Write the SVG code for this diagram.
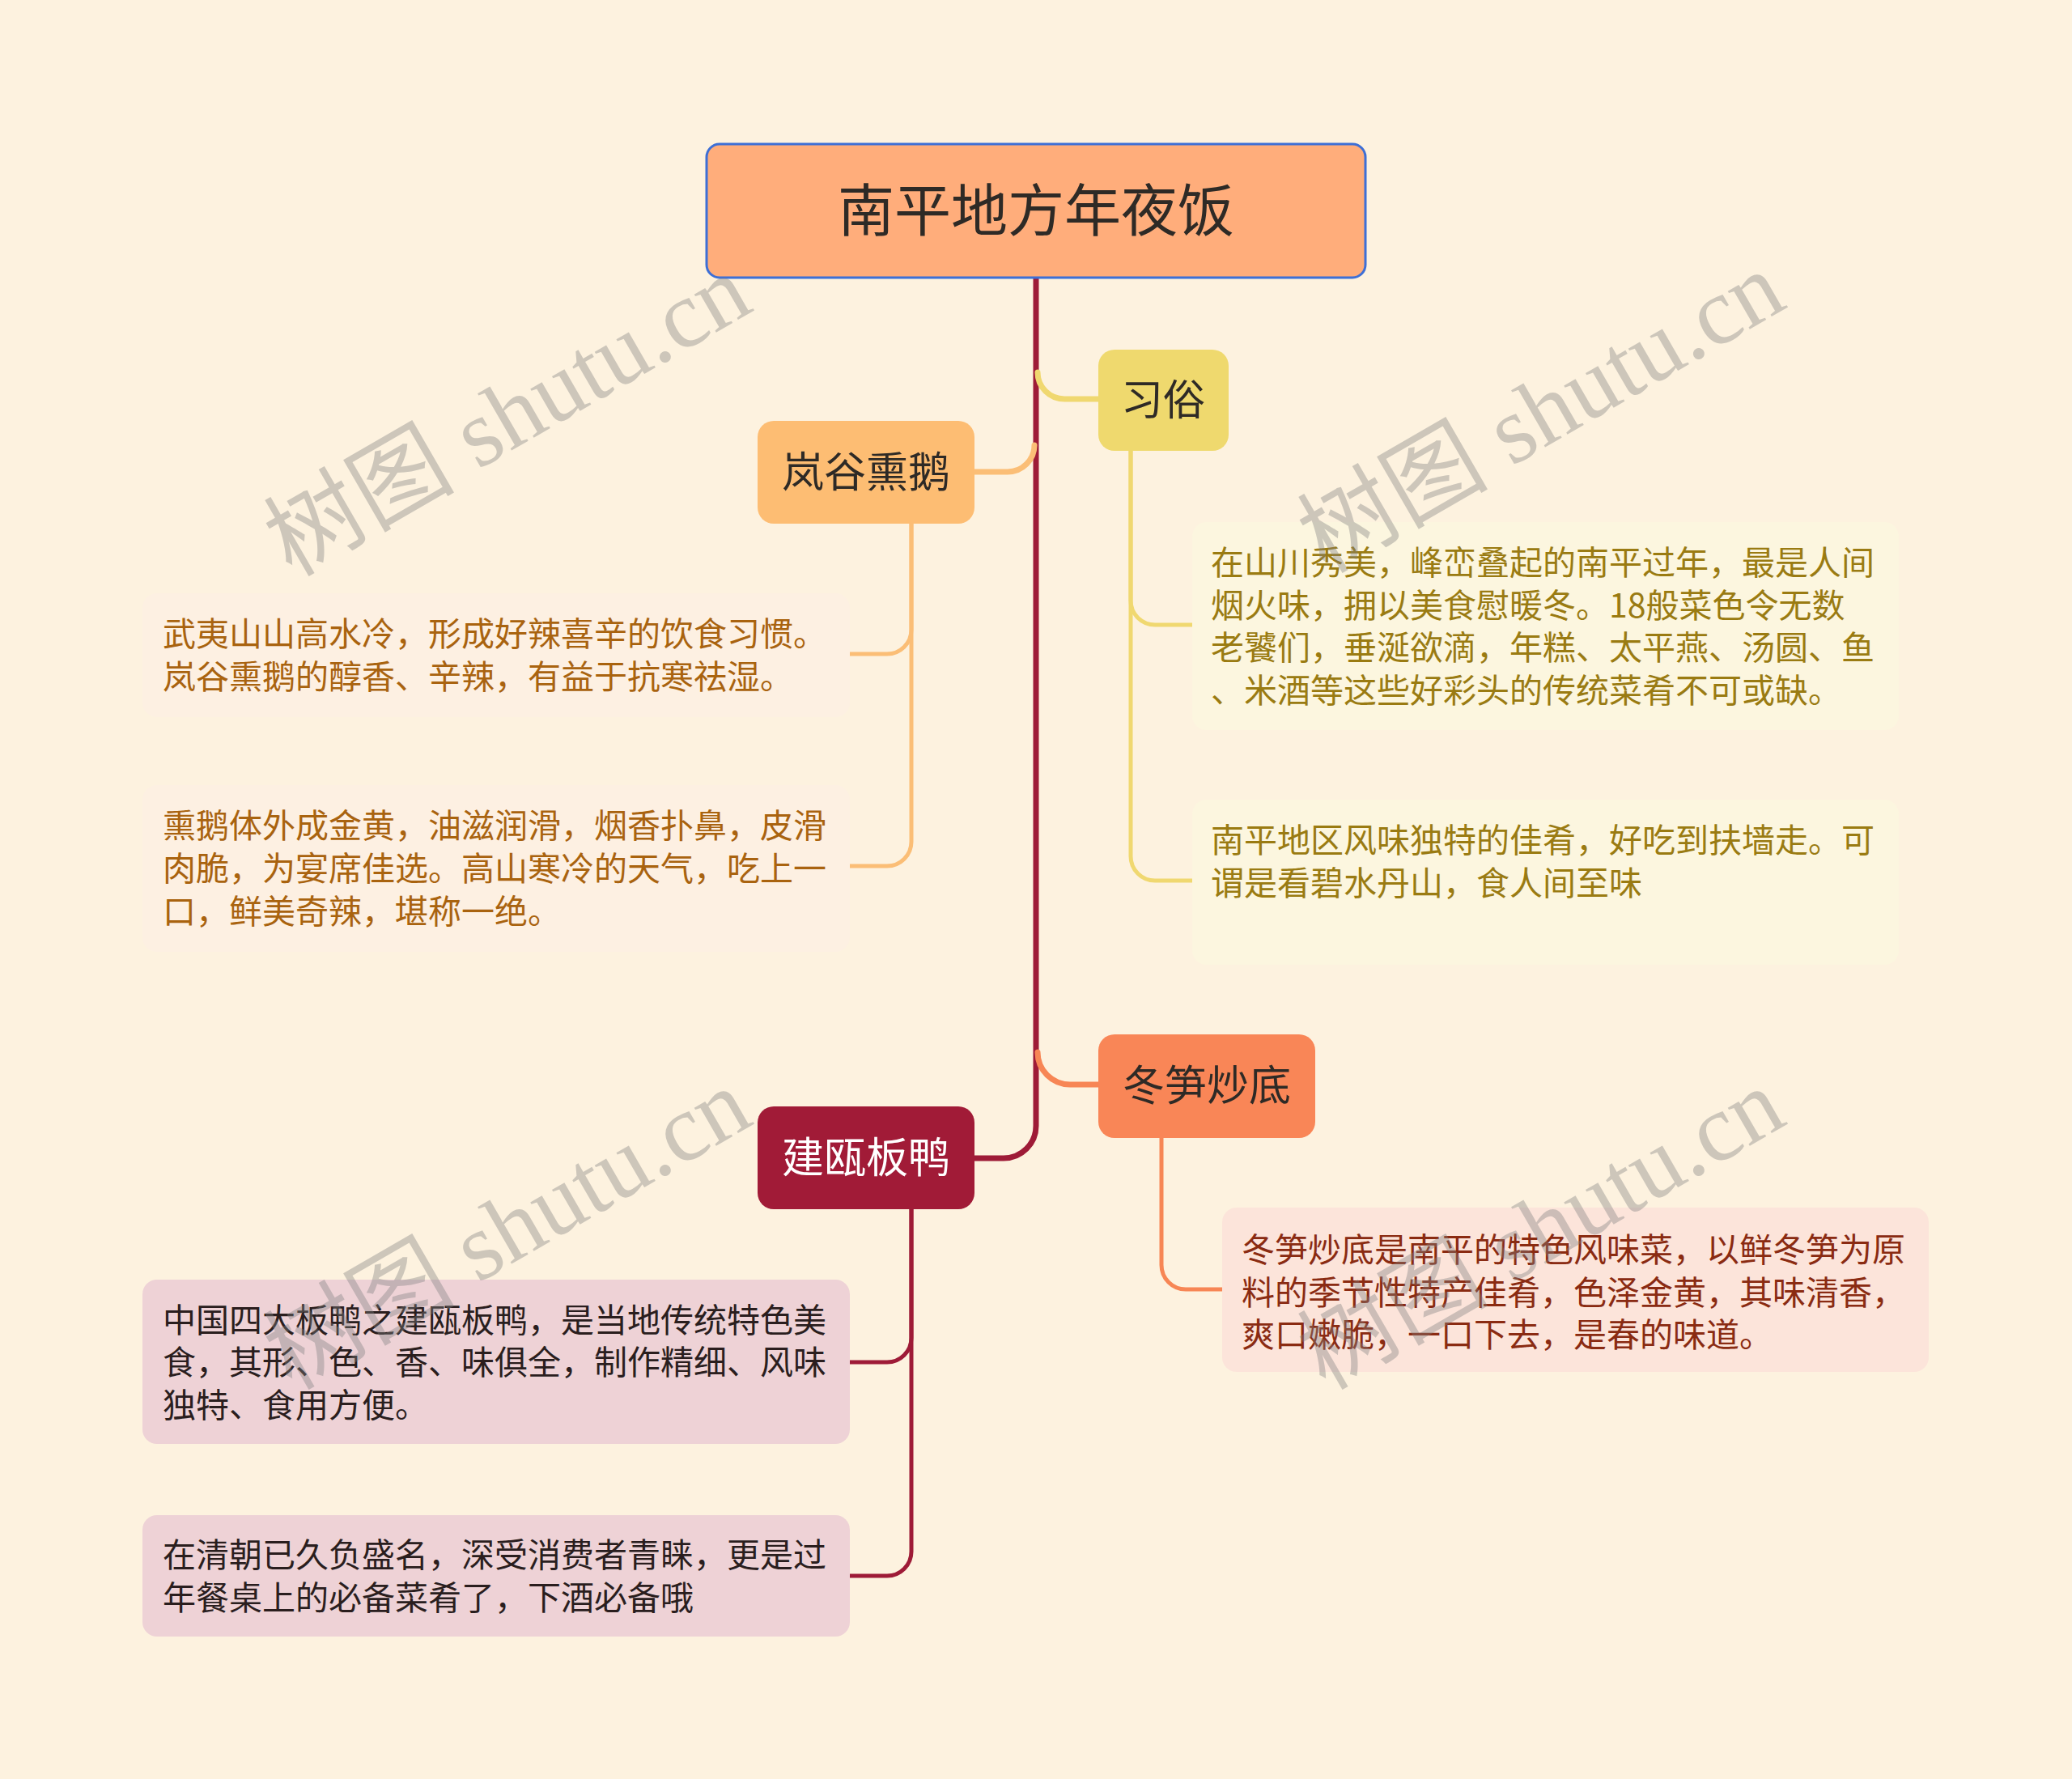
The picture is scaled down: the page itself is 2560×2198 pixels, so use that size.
<svg xmlns="http://www.w3.org/2000/svg" width="2560" height="2198" viewBox="0 0 2560 2198">
<style>
.t{font-family:"Noto Sans CJK SC","Noto Sans",sans-serif;}
.topic{font-size:52px;fill:#2e2a26;text-anchor:middle;}
.leaf{font-size:41px;}
.c{fill:none;stroke-linecap:round;}
.wm{font-family:"Liberation Serif","Noto Sans CJK SC",serif;font-size:118px;fill:#808080;opacity:0.38;text-anchor:middle;}
</style>
<rect x="0" y="0" width="2560" height="2198" fill="#fdf2df"/>
<g id="connectors">
<path class="c" d="M1280 343 V1391 A40 40 0 0 1 1240 1431 H1204" stroke="#9e1b37" stroke-width="7"/>
<path class="c" d="M1282 460 A33 33 0 0 0 1315 493 H1357" stroke="#f0d870" stroke-width="7"/>
<path class="c" d="M1278 550 A33 33 0 0 1 1245 583 H1204" stroke="#fbbe76" stroke-width="7"/>
<path class="c" d="M1282 1300 A40 40 0 0 0 1322 1340 H1357" stroke="#f78655" stroke-width="7"/>
<path class="c" d="M1126 647 V778 A30 30 0 0 1 1096 808 H1050" stroke="#fbbe76" stroke-width="5"/>
<path class="c" d="M1126 647 V1040 A30 30 0 0 1 1096 1070 H1050" stroke="#fbbe76" stroke-width="5"/>
<path class="c" d="M1397 557 V742 A30 30 0 0 0 1427 772 H1473" stroke="#f0d870" stroke-width="5"/>
<path class="c" d="M1397 557 V1058 A30 30 0 0 0 1427 1088 H1473" stroke="#f0d870" stroke-width="5"/>
<path class="c" d="M1435 1406 V1563 A30 30 0 0 0 1465 1593 H1510" stroke="#f78655" stroke-width="5"/>
<path class="c" d="M1126 1494 V1653 A30 30 0 0 1 1096 1683 H1050" stroke="#9e1b37" stroke-width="5"/>
<path class="c" d="M1126 1494 V1917 A30 30 0 0 1 1096 1947 H1050" stroke="#9e1b37" stroke-width="5"/>
</g>
<g id="root">
<rect x="873" y="178" width="814" height="165" rx="16" fill="#ffad7b" stroke="#3d6fd6" stroke-width="3"/>
<text class="t" x="1280" y="286" font-size="70" fill="#2e2a26" text-anchor="middle">南平地方年夜饭</text>
</g>
<g id="node-xisu">
<rect x="1357" y="432" width="161" height="125" rx="20" fill="#efd96e"/>
<text class="t topic" x="1437" y="513">习俗</text>
</g>
<g id="node-langu">
<rect x="936" y="520" width="268" height="127" rx="20" fill="#fdbd73"/>
<text class="t topic" x="1070" y="602">岚谷熏鹅</text>
</g>
<g id="node-dongsun">
<rect x="1357" y="1278" width="268" height="128" rx="20" fill="#f98657"/>
<text class="t topic" x="1491" y="1360">冬笋炒底</text>
</g>
<g id="node-jianou">
<rect x="936" y="1367" width="268" height="127" rx="20" fill="#a11b37"/>
<text class="t topic" x="1070" y="1449" style="fill:#ffffff">建瓯板鸭</text>
</g>
<g id="leaf-langu-1">
<rect x="176" y="733" width="874" height="153" rx="18" fill="#fdf0e2"/>
<text class="t leaf" fill="#a9630f"><tspan x="201" y="798">武夷山山高水冷，形成好辣喜辛的饮食习惯。</tspan><tspan x="201" y="851">岚谷熏鹅的醇香、辛辣，有益于抗寒祛湿。</tspan></text>
</g>
<g id="leaf-langu-2">
<rect x="176" y="970" width="874" height="206" rx="18" fill="#fdf0e2"/>
<text class="t leaf" fill="#a9630f"><tspan x="201" y="1035">熏鹅体外成金黄，油滋润滑，烟香扑鼻，皮滑</tspan><tspan x="201" y="1088">肉脆，为宴席佳选。高山寒冷的天气，吃上一</tspan><tspan x="201" y="1141">口，鲜美奇辣，堪称一绝。</tspan></text>
</g>
<g id="leaf-xisu-1">
<rect x="1473" y="645" width="873" height="257" rx="18" fill="#fcf6df"/>
<text class="t leaf" fill="#9a7b12"><tspan x="1496" y="710">在山川秀美，峰峦叠起的南平过年，最是人间</tspan><tspan x="1496" y="763">烟火味，拥以美食慰暖冬。18般菜色令无数</tspan><tspan x="1496" y="815">老饕们，垂涎欲滴，年糕、太平燕、汤圆、鱼</tspan><tspan x="1496" y="868">、米酒等这些好彩头的传统菜肴不可或缺。</tspan></text>
</g>
<g id="leaf-xisu-2">
<rect x="1473" y="988" width="873" height="204" rx="18" fill="#fcf6df"/>
<text class="t leaf" fill="#9a7b12"><tspan x="1496" y="1053">南平地区风味独特的佳肴，好吃到扶墙走。可</tspan><tspan x="1496" y="1106">谓是看碧水丹山，食人间至味</tspan></text>
</g>
<g id="leaf-dongsun">
<rect x="1510" y="1492" width="873" height="203" rx="18" fill="#fce4da"/>
<text class="t leaf" fill="#8a2b12"><tspan x="1534" y="1559">冬笋炒底是南平的特色风味菜，以鲜冬笋为原</tspan><tspan x="1534" y="1612">料的季节性特产佳肴，色泽金黄，其味清香，</tspan><tspan x="1534" y="1664">爽口嫩脆，一口下去，是春的味道。</tspan></text>
</g>
<g id="leaf-jianou-1">
<rect x="176" y="1581" width="874" height="203" rx="18" fill="#eed2d6"/>
<text class="t leaf" fill="#2a1e1e"><tspan x="201" y="1646">中国四大板鸭之建瓯板鸭，是当地传统特色美</tspan><tspan x="201" y="1698">食，其形、色、香、味俱全，制作精细、风味</tspan><tspan x="201" y="1751">独特、食用方便。</tspan></text>
</g>
<g id="leaf-jianou-2">
<rect x="176" y="1872" width="874" height="150" rx="18" fill="#eed2d6"/>
<text class="t leaf" fill="#2a1e1e"><tspan x="201" y="1936">在清朝已久负盛名，深受消费者青睐，更是过</tspan><tspan x="201" y="1989">年餐桌上的必备菜肴了，下酒必备哦</tspan></text>
</g>
<g id="watermarks">
<text class="wm" transform="translate(647 548) rotate(-30)">树图 shutu.cn</text>
<text class="wm" transform="translate(1924 544) rotate(-30)">树图 shutu.cn</text>
<text class="wm" transform="translate(647 1553) rotate(-30)">树图 shutu.cn</text>
<text class="wm" transform="translate(1924 1553) rotate(-30)">树图 shutu.cn</text>
</g>
</svg>
